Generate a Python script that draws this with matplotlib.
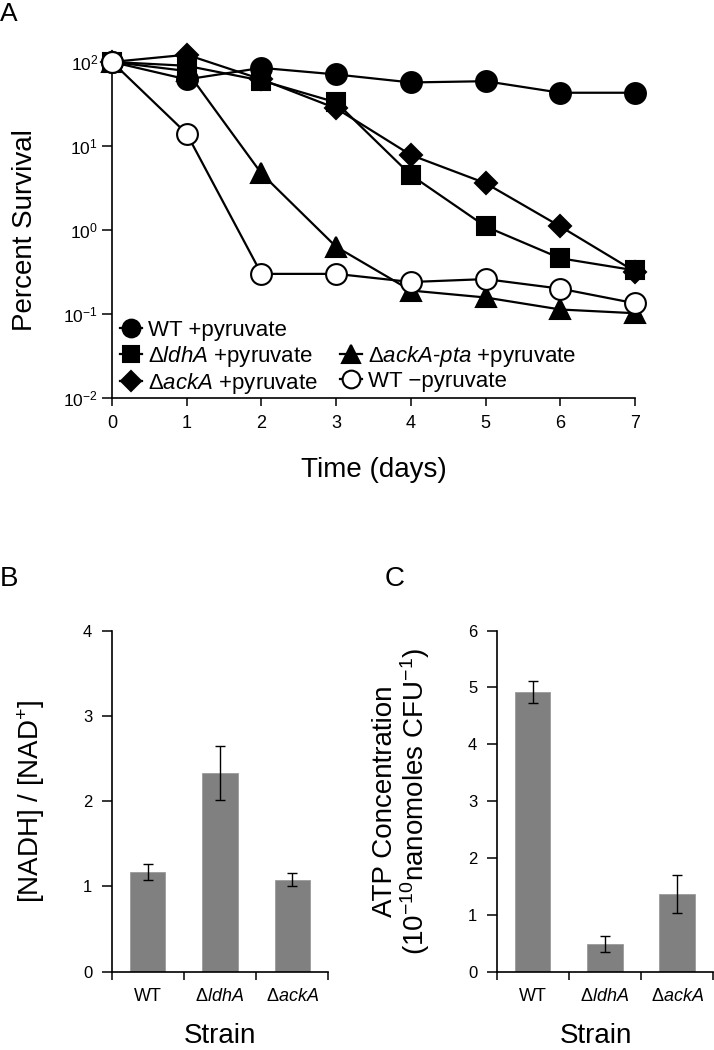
import matplotlib
matplotlib.use('Agg')
import matplotlib.pyplot as plt
from matplotlib.lines import Line2D

plt.rcParams['font.family'] = ['Liberation Sans', 'DejaVu Sans']
plt.rcParams['mathtext.fontset'] = 'custom'
plt.rcParams['mathtext.rm'] = 'Liberation Sans'
plt.rcParams['mathtext.it'] = 'Liberation Sans:italic'
plt.rcParams['mathtext.bf'] = 'Liberation Sans:bold'
plt.rcParams['mathtext.default'] = 'regular'

# --- panel A: survival over time (percent, log scale) ---
days = [0, 1, 2, 3, 4, 5, 6, 7]
wt_pyr = [100, 62, 85, 71, 57, 59, 43, 43]
ldha_pyr = [100, 90, 60, 33, 4.5, 1.1, 0.46, 0.33]
acka_pyr = [100, 122, 62, 28, 7.8, 3.6, 1.1, 0.32]
ackapta_pyr = [100, 78, 4.7, 0.63, 0.19, 0.157, 0.113, 0.102]
wt_nopyr = [100, 14, 0.30, 0.30, 0.24, 0.26, 0.20, 0.134]
a_yticks = [1e-2, 1e-1, 1e0, 1e1, 1e2]
a_yticklabels = ['$10^{-2}$', '$10^{-1}$', '$10^{0}$', '$10^{1}$', '$10^{2}$']

# --- panels B and C: bars with error bars ---
strains = ['WT', 'Δ$\\mathit{ldhA}$', 'Δ$\\mathit{ackA}$']
nad_ratio = [1.17, 2.33, 1.08]
nad_err = [0.09, 0.32, 0.08]
atp_conc = [4.92, 0.48, 1.37]
atp_err = [0.19, 0.14, 0.33]

fig = plt.figure(figsize=(7.14, 10.5), dpi=100)

# ---------------- A ----------------
axA = fig.add_axes([0.1569, 0.6210, 0.7325, 0.3200])
series = [
    (wt_pyr, 'o', 'black', 15, 'WT +pyruvate'),
    (ldha_pyr, 's', 'black', 13.5, 'Δ$\\mathit{ldhA}$ +pyruvate'),
    (acka_pyr, 'D', 'black', 11.5, 'Δ$\\mathit{ackA}$ +pyruvate'),
    (ackapta_pyr, '^', 'black', 15, 'Δ$\\mathit{ackA}$-$\\mathit{pta}$ +pyruvate'),
    (wt_nopyr, 'o', 'white', 15, 'WT −pyruvate'),
]
handles = {}
for vals, mk, fc, ms, lab in series:
    ln, = axA.plot(days, vals, color='black', lw=1.6, marker=mk, markersize=ms,
                   markerfacecolor=fc, markeredgecolor='black',
                   markeredgewidth=1.5, clip_on=False, label=lab, zorder=3)
    handles[lab] = ln

axA.set_yscale('log')
axA.set_xlim(0, 7)
axA.set_ylim(1e-2, 1e2)
axA.set_xticks(days)
axA.set_yticks(a_yticks)
axA.set_yticklabels(a_yticklabels)
axA.yaxis.set_minor_locator(matplotlib.ticker.NullLocator())
axA.tick_params(axis='x', length=6, width=1.1, pad=6, labelsize=13)
axA.tick_params(axis='y', length=7, width=1.1, pad=3, labelsize=12.5)
for s in ['top', 'right']:
    axA.spines[s].set_visible(False)
for s in ['left', 'bottom']:
    axA.spines[s].set_linewidth(1.2)
axA.set_ylabel('Percent Survival', fontsize=20)
axA.yaxis.set_label_coords(-0.142, 0.5)
axA.set_xlabel('Time (days)', fontsize=20)
axA.xaxis.set_label_coords(0.5, -0.176)

blank = Line2D([], [], linestyle='none', marker=None)
labs = [s[4] for s in series]
leg_handles = [handles[labs[0]], handles[labs[1]], handles[labs[2]],
               blank, handles[labs[3]], handles[labs[4]]]
leg_labels = [labs[0], labs[1], labs[2], '', labs[3], labs[4]]
axA.legend(leg_handles, leg_labels, ncol=2, loc='lower left',
           bbox_to_anchor=(0.015, 0.005), frameon=False, fontsize=16,
           handlelength=1.0, handletextpad=0.25, columnspacing=1.0,
           labelspacing=0.12, borderpad=0.0, borderaxespad=0.0,
           markerscale=0.85)

# ---------------- B and C ----------------
def bar_panel(ax, vals, errs, ymax, ylabel, xlab_x):
    pos = [0.5, 1.5, 2.5]
    ax.bar(pos, vals, width=0.49, color='#808080', edgecolor='#9a9a9a',
           linewidth=0.6, zorder=2)
    ax.errorbar(pos, vals, yerr=errs, fmt='none', ecolor='black',
                elinewidth=1.0, capsize=3.5, capthick=1.0, zorder=3)
    ax.set_xlim(0, 3)
    ax.set_ylim(0, ymax)
    ax.set_yticks(range(0, ymax + 1))
    ax.set_xticks([0, 1, 2, 3])
    ax.set_xticklabels([])
    ax.set_xticks(pos, minor=True)
    ax.set_xticklabels(strains, minor=True)
    ax.tick_params(axis='x', which='major', length=6, width=1.1)
    ax.tick_params(axis='x', which='minor', length=0, pad=12, labelsize=13)
    ax.tick_params(axis='y', length=7, width=1.1, pad=7, labelsize=12)
    for s in ['top', 'right']:
        ax.spines[s].set_visible(False)
    for s in ['left', 'bottom']:
        ax.spines[s].set_linewidth(1.2)
    ax.spines['bottom'].set_clip_on(False)
    ax.set_ylabel(ylabel, fontsize=20, linespacing=1.0)
    ax.yaxis.set_label_coords(-0.299, 0.5)
    ax.set_xlabel('Strain', fontsize=20)
    ax.xaxis.set_label_coords(xlab_x, -0.150)


axB = fig.add_axes([0.1564, 0.0746, 0.3034, 0.3248])
bar_panel(axB, nad_ratio, nad_err, 4, '[NADH] / [NAD$^{+}$]', 0.5)

axC = fig.add_axes([0.6956, 0.0746, 0.3034, 0.3248])
bar_panel(axC, atp_conc, atp_err, 6,
          'ATP Concentration\n(10$^{-10}$nanomoles CFU$^{-1}$)', 0.46)

fig.text(0.0, 0.998, 'A', fontsize=19, va='top', ha='left')
fig.text(0.0, 1 - 566 / 1050, 'B', fontsize=20, va='top', ha='left')
fig.text(385 / 714, 1 - 566 / 1050, 'C', fontsize=20, va='top', ha='left')

fig.savefig('out.png', dpi=100)
